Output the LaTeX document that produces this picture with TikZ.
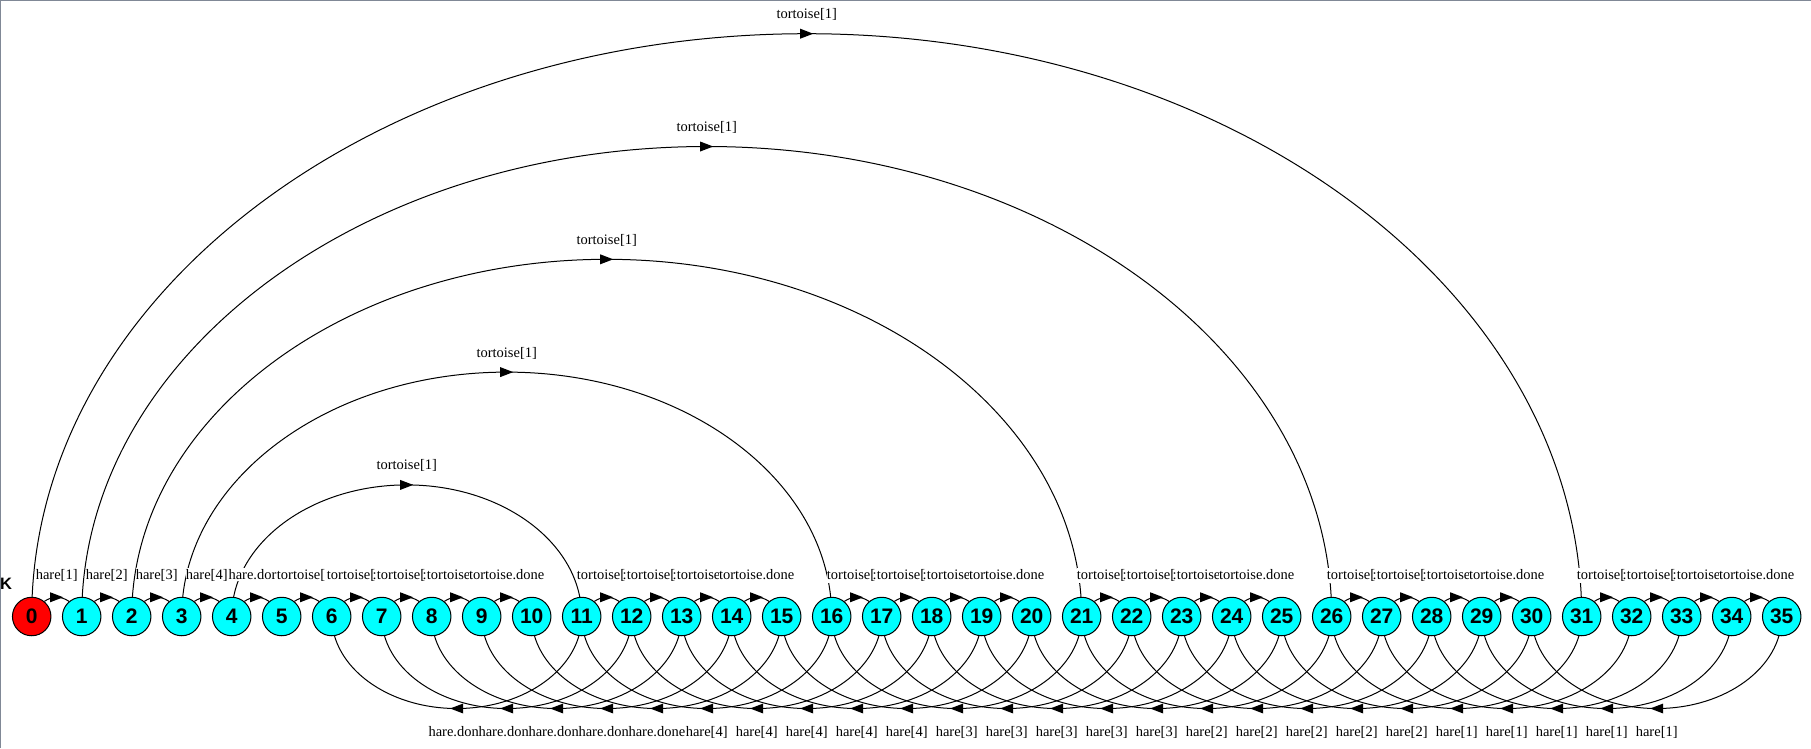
\documentclass[tikz,border=0pt]{standalone}
\usepackage{fontspec}
\setmainfont{Liberation Serif}
\newfontfamily\nodefont{Liberation Sans}
\usetikzlibrary{calc,decorations.markings,backgrounds}
\pgfdeclarelayer{back}
\pgfsetlayers{back,background,main}
\definecolor{nodecyan}{RGB}{0,255,255}
\definecolor{nodered}{RGB}{255,0,0}
\definecolor{framegray}{RGB}{128,136,150}
\tikzset{
  vertex/.style={circle, draw=black, line width=1pt, minimum size=38.5pt, inner sep=0pt,
    fill=nodecyan, font=\nodefont\bfseries\fontsize{21}{21}\selectfont},
  link/.style={draw=black, line width=1pt},
  midarrow/.style={postaction={decorate}, decoration={markings,
    mark=at position 0.5 with {\fill[black] (6.5pt,0pt) -- (-6.5pt,5pt) -- (-6.5pt,-5pt) -- cycle;}}},
  lbl/.style={font=\fontsize{14.5}{16}\selectfont, fill=white, inner xsep=0pt, inner ysep=1.5pt},
}
\newcommand\toplabel[4]{\node[lbl, anchor=#2] (tl#1) at ($(n#1)!0.5!(n\the\numexpr#1+1\relax)+(#3,37)$) {#4};}
\newcommand\botlabel[4]{\node[lbl, anchor=#2] (bl#1) at ($(n#1)!0.5!(n\the\numexpr#1+5\relax)+(#3,-119.5)$) {#4};}
\newcommand\tcolon{tortoise[\kern-2.6pt:}
\begin{document}
\begin{tikzpicture}[x=1pt,y=1pt]
\begin{pgfonlayer}{back}
\fill[white] (0,0) rectangle (1811,-748);
\end{pgfonlayer}
\useasboundingbox (0,0) rectangle (1811,-748);
\draw[framegray, line width=1.2pt] (0.6,-748) -- (0.6,-0.6) -- (1811,-0.6);

% nodes
\node[vertex, fill=nodered] (n0) at (31.7,-616.5) {0};
\foreach \i in {1,...,35} {
  \node[vertex] (n\i) at ({31.7+50*\i},-616.5) {\i};
}
\node[font=\nodefont\bfseries\fontsize{16.5}{16.5}\selectfont, inner sep=0pt] (K) at (6,-584) {K};

% connectors
\begin{scope}[on background layer]
  \foreach \i in {0,...,34} {
    \pgfmathtruncatemacro\j{\i+1}
    \pgfmathtruncatemacro\flag{and(\i>9, mod(\i,5)==0)}
    \ifnum\flag=0
      \draw[link, midarrow] (n\i.50) to[bend left=35] (n\j.130);
    \fi
  }
  \foreach \i/\j in {0/31,1/26,2/21,3/16,4/11} {
    \draw[link, midarrow] let \p1=(n\i.center), \p2=(n\j.center), \n1={(\x2-\x1)/2} in
      (\p1) arc[start angle=180, end angle=0, x radius=\n1, y radius={0.752*\n1}];
  }
  \foreach \i in {6,...,30} {
    \pgfmathtruncatemacro\j{\i+5}
    \draw[link, midarrow] let \p1=(n\j.center), \p2=(n\i.center), \n1={(\x1-\x2)/2} in
      (\p1) arc[start angle=0, end angle=-180, x radius=\n1, y radius={0.736*\n1}];
  }
\end{scope}

% tortoise arc labels
\foreach \i/\j in {0/31,1/26,2/21,3/16,4/11} {
  \path let \p1=(n\i.center), \p2=(n\j.center), \n1={(\x2-\x1)/2} in
    node[lbl, anchor=base] (tt\i) at (\x1+\n1, \y1+0.752*\n1+15pt) {tortoise[1]};
}

% small edge labels
\toplabel{0}{base}{0}{hare[1]}
\toplabel{1}{base}{0}{hare[2]}
\toplabel{2}{base}{0}{hare[3]}
\toplabel{3}{base}{0}{hare[4]}
\toplabel{4}{base west}{-28.4}{hare.dor}
\toplabel{5}{base west}{-30}{tortoise[}
\toplabel{6}{base west}{-30}{\tcolon}
\toplabel{7}{base west}{-30}{\tcolon}
\toplabel{8}{base west}{-30}{tortoise}
\toplabel{9}{base}{0}{tortoise.done}
\foreach \g in {11,16,21,26,31} {
  \pgfmathtruncatemacro\ga{\g+1}
  \pgfmathtruncatemacro\gb{\g+2}
  \pgfmathtruncatemacro\gc{\g+3}
  \toplabel{\g}{base west}{-30}{\tcolon}
  \toplabel{\ga}{base west}{-30}{\tcolon}
  \toplabel{\gb}{base west}{-30}{tortoise}
  \toplabel{\gc}{base}{0}{tortoise.done}
}

% bottom labels
\foreach \i in {6,...,9} { \botlabel{\i}{base west}{-28.4}{hare.don} }
\botlabel{10}{base west}{-28.4}{hare.done}
\foreach \i in {11,...,15} { \botlabel{\i}{base}{0}{hare[4]} }
\foreach \i in {16,...,20} { \botlabel{\i}{base}{0}{hare[3]} }
\foreach \i in {21,...,25} { \botlabel{\i}{base}{0}{hare[2]} }
\foreach \i in {26,...,30} { \botlabel{\i}{base}{0}{hare[1]} }
\end{tikzpicture}
\end{document}
